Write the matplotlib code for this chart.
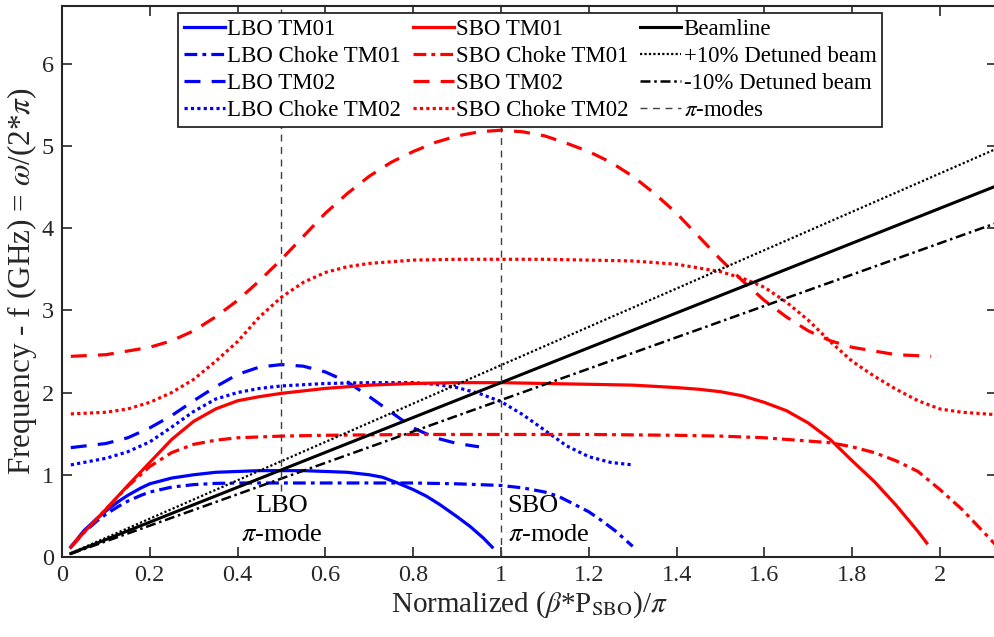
import matplotlib
matplotlib.use("Agg")
import matplotlib.pyplot as plt
import numpy as np

plt.rcParams['font.family'] = ['Liberation Serif', 'DejaVu Serif']
plt.rcParams['mathtext.fontset'] = 'stix'

# ---- data ----
lbo_tm01_x = [0.02, 0.05, 0.08, 0.1, 0.13, 0.15, 0.18, 0.2, 0.25, 0.3, 0.35, 0.4, 0.45, 0.5, 0.55, 0.6, 0.65, 0.7, 0.73, 0.76, 0.8, 0.83, 0.86, 0.9, 0.93, 0.96, 0.98]
lbo_tm01_y = [0.12, 0.32, 0.47, 0.56, 0.68, 0.75, 0.84, 0.89, 0.96, 1.0, 1.03, 1.04, 1.05, 1.05, 1.05, 1.04, 1.03, 1.0, 0.97, 0.91, 0.82, 0.74, 0.64, 0.49, 0.37, 0.23, 0.12]

lbo_ch_tm01_x = [0.02, 0.05, 0.08, 0.1, 0.13, 0.15, 0.18, 0.2, 0.25, 0.3, 0.35, 0.4, 0.5, 0.6, 0.7, 0.8, 0.9, 0.95, 1.0, 1.05, 1.1, 1.13, 1.16, 1.2, 1.23, 1.26, 1.3]
lbo_ch_tm01_y = [0.12, 0.3, 0.44, 0.52, 0.62, 0.68, 0.75, 0.79, 0.85, 0.88, 0.895, 0.9, 0.9, 0.9, 0.9, 0.9, 0.89, 0.88, 0.87, 0.84, 0.79, 0.74, 0.66, 0.55, 0.44, 0.32, 0.13]

lbo_tm02_x = [0.02, 0.1, 0.15, 0.2, 0.25, 0.3, 0.35, 0.4, 0.45, 0.5, 0.55, 0.6, 0.65, 0.7, 0.75, 0.8, 0.85, 0.9, 0.95]
lbo_tm02_y = [1.33, 1.38, 1.45, 1.57, 1.72, 1.9, 2.07, 2.22, 2.31, 2.34, 2.32, 2.25, 2.13, 1.95, 1.76, 1.57, 1.45, 1.38, 1.34]

lbo_ch_tm02_x = [0.02, 0.1, 0.15, 0.2, 0.25, 0.3, 0.35, 0.4, 0.45, 0.5, 0.6, 0.7, 0.8, 0.85, 0.9, 0.95, 1.0, 1.05, 1.1, 1.15, 1.2, 1.25, 1.3]
lbo_ch_tm02_y = [1.12, 1.2, 1.28, 1.4, 1.58, 1.77, 1.92, 2.0, 2.05, 2.08, 2.11, 2.12, 2.12, 2.1, 2.06, 1.99, 1.89, 1.73, 1.54, 1.35, 1.22, 1.15, 1.12]

sbo_tm01_x = [0.02, 0.05, 0.1, 0.15, 0.2, 0.25, 0.3, 0.35, 0.4, 0.45, 0.5, 0.6, 0.7, 0.8, 0.9, 1.0, 1.1, 1.2, 1.3, 1.4,
              1.45, 1.5, 1.55, 1.6, 1.65, 1.7, 1.75, 1.8, 1.85, 1.9, 1.95, 1.97]
sbo_tm01_y = [0.12, 0.3, 0.58, 0.87, 1.15, 1.43, 1.65, 1.8, 1.9, 1.95, 1.99, 2.05, 2.09, 2.11, 2.12, 2.12, 2.11, 2.1, 2.09, 2.06,
              2.04, 2.01, 1.96, 1.88, 1.78, 1.63, 1.43, 1.17, 0.92, 0.63, 0.31, 0.17]

sbo_ch_tm01_x = [0.02, 0.05, 0.1, 0.15, 0.2, 0.25, 0.3, 0.35, 0.4, 0.45, 0.5, 0.6, 0.8, 1.0, 1.2, 1.4, 1.5, 1.6, 1.65, 1.7, 1.75,
                 1.8, 1.85, 1.9, 1.95, 2.0, 2.05, 2.1, 2.13]
sbo_ch_tm01_y = [0.12, 0.3, 0.58, 0.86, 1.1, 1.27, 1.37, 1.42, 1.45, 1.46, 1.47, 1.48, 1.49, 1.49, 1.49, 1.48, 1.47, 1.45, 1.43, 1.41, 1.39,
                 1.34, 1.27, 1.17, 1.04, 0.82, 0.58, 0.3, 0.13]

sbo_tm02_x = [0.02, 0.1, 0.2, 0.25, 0.3, 0.35, 0.4, 0.45, 0.5, 0.55, 0.6, 0.65, 0.7, 0.75, 0.8, 0.85, 0.9, 0.95, 1.0,
              1.05, 1.1, 1.15, 1.2, 1.25, 1.3, 1.35, 1.4, 1.45, 1.5, 1.55, 1.6, 1.65, 1.7, 1.75, 1.8, 1.9, 1.98]
sbo_tm02_y = [2.44, 2.46, 2.55, 2.63, 2.75, 2.92, 3.12, 3.36, 3.62, 3.9, 4.18, 4.42, 4.63, 4.8, 4.93, 5.04, 5.12, 5.17, 5.19,
              5.17, 5.12, 5.03, 4.93, 4.8, 4.63, 4.42, 4.18, 3.9, 3.62, 3.36, 3.12, 2.92, 2.75, 2.63, 2.55, 2.46, 2.44]

sbo_ch_tm02_x = [0.02, 0.1, 0.15, 0.2, 0.25, 0.3, 0.35, 0.4, 0.45, 0.5, 0.55, 0.6, 0.65, 0.7, 0.8, 0.9, 1.0, 1.1, 1.2, 1.3, 1.4,
                 1.5, 1.55, 1.6, 1.65, 1.7, 1.75, 1.8, 1.85, 1.9, 1.95, 2.0, 2.05, 2.13]
sbo_ch_tm02_y = [1.74, 1.76, 1.8, 1.88, 2.0, 2.16, 2.38, 2.62, 2.92, 3.16, 3.34, 3.46, 3.53, 3.57, 3.61, 3.62, 3.62, 3.62, 3.61, 3.6, 3.56,
                 3.47, 3.39, 3.28, 3.1, 2.88, 2.62, 2.38, 2.2, 2.04, 1.9, 1.8, 1.76, 1.73]

beam_x = [0.02, 2.13]
beam_slope = 2.12
detune = 0.10

pi_mode_x = [0.5, 1.0]
pi_mode_y0 = [0.8, 0.0]

# ---- figure ----
fig = plt.figure(figsize=(9.95, 6.37), dpi=100)
ax = fig.add_axes([62 / 995, (637 - 557) / 637, (997 - 62) / 995, (557 - 6) / 637])

blue = '#0000ff'
red = '#ff0000'
lw = 2.3
dashdot = (0, (4, 1.6, 1.2, 1.6))
dashed = (0, (5, 3.5))
dotted = (0, (1, 1))

ax.plot(lbo_tm01_x, lbo_tm01_y, color=blue, lw=lw, label='LBO TM01')
ax.plot(lbo_ch_tm01_x, lbo_ch_tm01_y, color=blue, lw=lw, ls=dashdot, label='LBO Choke TM01')
ax.plot(lbo_tm02_x, lbo_tm02_y, color=blue, lw=lw, ls=dashed, label='LBO TM02')
ax.plot(lbo_ch_tm02_x, lbo_ch_tm02_y, color=blue, lw=lw, ls=dotted, label='LBO Choke TM02')

ax.plot(sbo_tm01_x, sbo_tm01_y, color=red, lw=lw, label='SBO TM01')
ax.plot(sbo_ch_tm01_x, sbo_ch_tm01_y, color=red, lw=lw, ls=dashdot, label='SBO Choke TM01')
ax.plot(sbo_tm02_x, sbo_tm02_y, color=red, lw=lw, ls=dashed, label='SBO TM02')
ax.plot(sbo_ch_tm02_x, sbo_ch_tm02_y, color=red, lw=lw, ls=dotted, label='SBO Choke TM02')

bx = np.array(beam_x)
ax.plot(bx, beam_slope * bx, color='black', lw=2.2, label='Beamline')
ax.plot(bx, beam_slope * (1 + detune) * bx, color='black', lw=1.6, ls=(0, (1, 1)), label='+10% Detuned beam')
ax.plot(bx, beam_slope * (1 - detune) * bx, color='black', lw=1.8, ls=(0, (4, 1.5, 1, 1.5)), label='-10% Detuned beam')

px, py = [], []
for x0, y0 in zip(pi_mode_x, pi_mode_y0):
    px += [x0, x0, np.nan]
    py += [y0, 6.7, np.nan]
ax.plot(px, py, color='#404040', lw=1.0, ls=(0, (5, 4)), label=r'$\pi$-modes')

ax.text(0.5, 0.62, 'LBO', ha='center', va='center', fontsize=19)
ax.text(0.5, 0.27, r'$\pi$-mode', ha='center', va='center', fontsize=19)
ax.text(1.015, 0.62, 'SBO', ha='left', va='center', fontsize=19)
ax.text(1.015, 0.27, r'$\pi$-mode', ha='left', va='center', fontsize=19)

ax.set_xlim(0, 2.13)
ax.set_ylim(0, 6.7)
ax.set_xticks(np.arange(0, 2.01, 0.2))
ax.set_xticklabels(['0', '0.2', '0.4', '0.6', '0.8', '1', '1.2', '1.4', '1.6', '1.8', '2'])
ax.set_yticks(range(0, 7))
ax.tick_params(direction='in', top=True, right=True, length=7, width=1.2,
               labelsize=17.5, colors='#262626', pad=6)
for s in ax.spines.values():
    s.set_linewidth(1.5)
    s.set_color('#262626')

ax.set_xlabel(r'Normalized ($\beta$*P$_{\mathrm{SBO}}$)/$\pi$', fontsize=21, color='#262626', labelpad=2)
ax.set_ylabel(r'Frequency - f (GHz) = $\omega$/(2*$\pi$)', fontsize=22.5, color='#262626', labelpad=2)

leg = ax.legend(ncol=3, loc='upper left', bbox_to_anchor=(178 / 995, 1 - 13 / 637),
                bbox_transform=fig.transFigure, fontsize=16.5, frameon=True, fancybox=False,
                framealpha=1, edgecolor='#262626', handlelength=1.8, handletextpad=0.1,
                columnspacing=0.5, labelspacing=0.26, borderpad=0.25, borderaxespad=0)
leg.get_frame().set_linewidth(1.3)
leg.set_zorder(10)

fig.savefig('out.png', dpi=100)
